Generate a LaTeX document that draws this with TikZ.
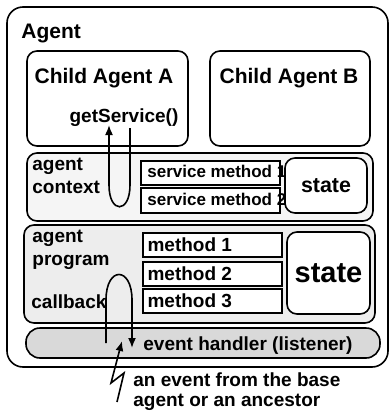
\documentclass[tikz,border=0pt]{standalone}
\usepackage{fontspec}
\setmainfont{Liberation Sans}
\usepackage{tikz}
\usetikzlibrary{arrows.meta,positioning,calc}

\begin{document}
\begin{tikzpicture}[x=0.5pt,y=-0.5pt,
    box/.style={draw,line width=0.8pt,rounded corners=5pt,inner sep=0pt},
    slot/.style={draw,fill=white,line width=0.8pt,inner sep=0pt},
    lbl/.style={font=\bfseries\fontsize{9.5}{11.5}\selectfont,inner sep=0pt},
    flow/.style={line width=0.8pt,-{Latex[length=5pt,width=4pt]}}]
    \useasboundingbox (0,0) rectangle (390,413);

    % Outer agent and its children
    \node[box,rounded corners=8pt,minimum width=190.5pt,minimum height=180pt] (agent) at (197.5,187) {};
    \node[box,minimum width=80.5pt,minimum height=47.5pt] (childA) at (107.5,98.5) {};
    \node[box,minimum width=80pt,minimum height=47.5pt] (childB) at (290,98.5) {};

    % Agent context
    \node[box,fill=black!4,minimum width=173pt,minimum height=34pt] (context) at (200,187) {};
    \node[slot,minimum width=69.5pt,minimum height=12pt] (serv1) at (210.5,173) {};
    \node[slot,minimum width=69.5pt,minimum height=12.5pt] (serv2) at (210.5,200.5) {};
    \node[lbl,font=\bfseries\fontsize{8.5}{10}\selectfont,anchor=base west] (serv1txt) at (147,177) {service method 1};
    \node[lbl,font=\bfseries\fontsize{8.5}{10}\selectfont,anchor=base west] (serv2txt) at (147,205) {service method 2};
    \node[box,fill=white,minimum width=41pt,minimum height=27.5pt,font=\bfseries\fontsize{10.7}{12}\selectfont] (cstate) at (326,185.5) {state};

    % Agent program
    \node[box,fill=black!7,minimum width=175.5pt,minimum height=49pt] (program) at (199.5,274) {};
    \foreach \i/\y in {1/245,2/274,3/301} {
        \node[slot,minimum width=69.5pt,minimum height=12pt] (meth\i) at (212.5,\y) {};
        \node[lbl,anchor=west] at ($(meth\i.west)+(5,0)$) {method \i};
    }
    \node[box,fill=white,minimum width=41.5pt,minimum height=41pt,font=\bfseries\fontsize{14.5}{16}\selectfont] (pstate) at (328.5,273) {state};

    % Event handler
    \node[box,fill=black!15,rounded corners=7pt,minimum width=177pt,minimum height=15pt] (handler) at (203,343) {};
    \node[lbl,anchor=base west] (handlertxt) at (143,350) {event handler (listener)};

    % Labels
    \node[lbl,font=\bfseries\fontsize{10.5}{12}\selectfont,anchor=base west] (agenttxt) at (21,38) {Agent};
    \node[lbl,font=\bfseries\fontsize{10.5}{12}\selectfont,anchor=base] (childAtxt) at (104,83) {Child Agent A};
    \node[lbl,font=\bfseries\fontsize{10.5}{12}\selectfont,anchor=base] (childBtxt) at (289,83) {Child Agent B};
    \node[lbl,anchor=base] (get) at (124,122) {getService()};
    \node[lbl,anchor=base west] at (32,170) {agent};
    \node[lbl,anchor=base west] at (32,193) {context};
    \node[lbl,anchor=base west] at (32,242) {agent};
    \node[lbl,anchor=base west] at (32,265) {program};
    \node[lbl,anchor=base west] (callback) at (31,308) {callback};
    \node[lbl,anchor=base west] (event1) at (133,386) {an event from the base};
    \node[lbl,anchor=base west] (event2) at (133,406) {agent or an ancestor};

    % Service call loop
    \coordinate (gs) at (130,128);
    \draw[flow] (gs) -- (130,185) .. controls (130,214) and (109,214) .. (109,185) -- (109,125);

    % Callback loop
    \coordinate (cb) at (106,343);
    \draw[flow] (cb) -- (106,300) .. controls (106,266) and (132,266) .. (132,300) -- (132,348);

    % Incoming event
    \coordinate (ev) at (117,402);
    \draw[flow] (ev) -- (124,373) -- (111,383) -- (122,341);
\end{tikzpicture}
\end{document}
